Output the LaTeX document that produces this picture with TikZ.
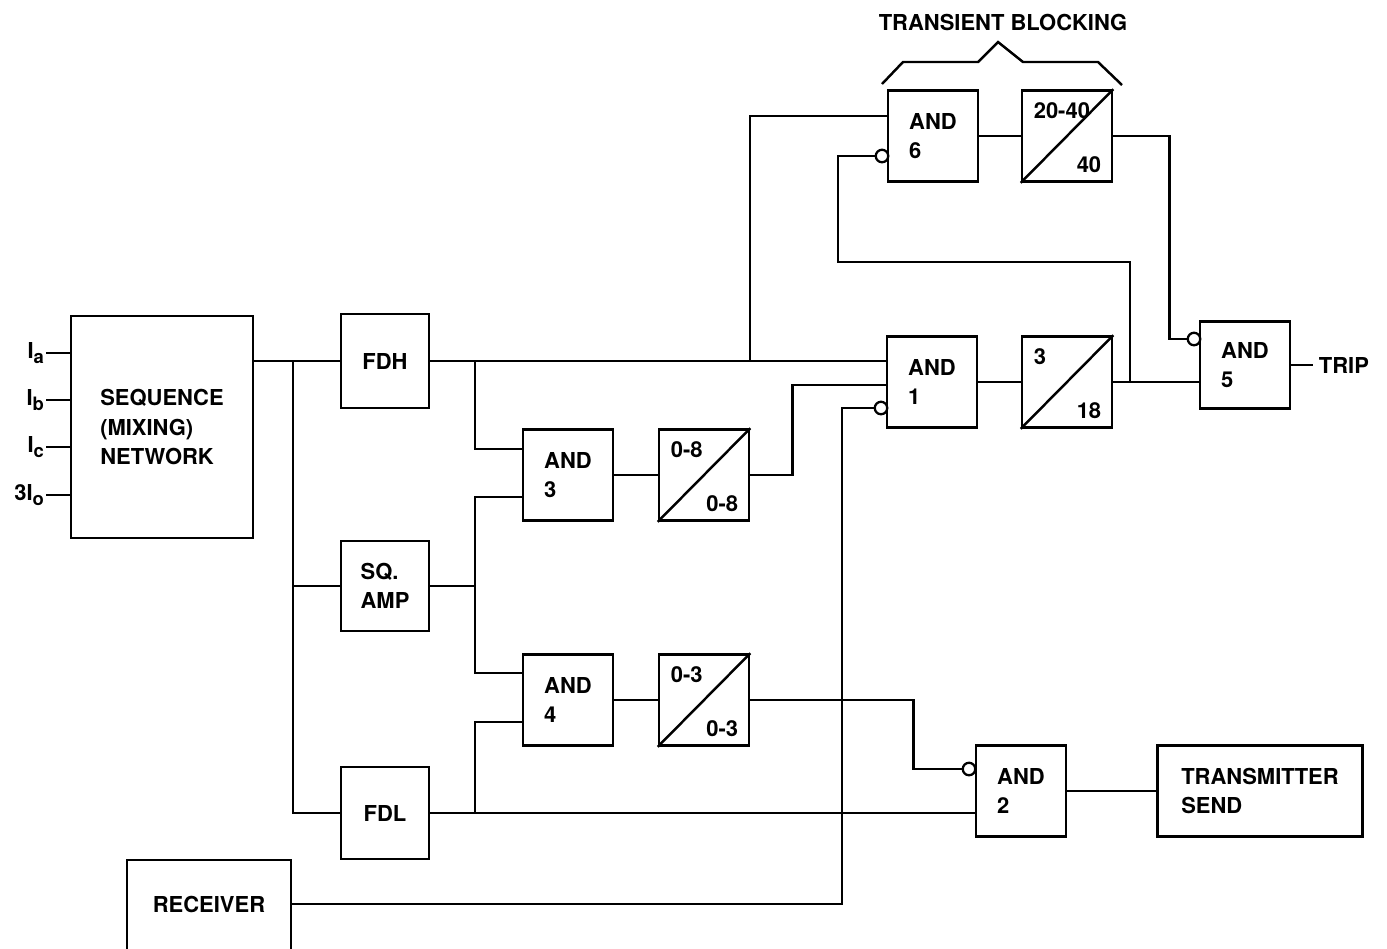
\documentclass[tikz,border=0pt]{standalone}
\usepackage{fontspec}
\setmainfont{TeX Gyre Heros}
\usepackage{tikz}
\usetikzlibrary{positioning}

% delay box: name, centre, pick-up time, drop-out time
\newcommand{\delaybox}[4]{%
  \node[gate] (#1) at (#2) {};
  \draw[wire] (#1.south west) -- (#1.north east);
  \node[lbl, anchor=north west] at ([shift={(11,11)}]#1.north west) {#3};
  \node[lbl, anchor=south east] at ([shift={(-10,-8)}]#1.south east) {#4};
}
% subscript of the input currents
\newcommand{\insub}[1]{\raisebox{-0.45ex}{\fontsize{10.5}{12}\selectfont #1}}

\begin{document}
\begin{tikzpicture}[
  x=0.02cm, y=-0.02cm,
  font=\fontsize{12.5}{16.8}\selectfont\bfseries,
  box/.style  = {draw, line width=1.5pt, align=left, inner sep=0pt},
  gate/.style = {box, minimum width=1.8cm, minimum height=1.82cm},
  inv/.style  = {draw, circle, line width=1.3pt, inner sep=0pt, minimum size=0.25cm, fill=white},
  wire/.style = {draw, line width=1.4pt},
  lbl/.style  = {inner sep=1pt},
]
\useasboundingbox (0,0) rectangle (1387,948);
\clip (0,0) rectangle (1387,948);

% =============== input side ===============
\node[box, minimum width=3.64cm, minimum height=4.44cm] (seq) at (162,427) {SEQUENCE\\(MIXING)\\NETWORK};
\foreach \n/\y/\t in {ia/353/{I\insub{a}}, ib/400/{I\insub{b}},
                      ic/447/{I\insub{c}}, io/495/{3I\insub{o}}} {
  \node[lbl, anchor=east] (\n) at (46,\y) {\t};
  \draw[wire] (\n.east) -- (\n.east -| seq.west);
}

\node[box, minimum width=1.76cm, minimum height=1.88cm] (fdh)   at (385,361) {FDH};
\node[box, minimum width=1.76cm, minimum height=1.8cm]  (sqamp) at (385,586) {SQ.\\AMP};
\node[box, minimum width=1.76cm, minimum height=1.84cm] (fdl)   at (385,813) {FDL};
\node[box, minimum width=3.28cm, minimum height=2cm]    (rcv)   at (209,910) {};
\node[lbl] (rcvtxt) at (209,904) {RECEIVER};

% =============== logic ===============
\node[gate] (and3) at (568,475) {AND\\3};
\node[gate] (and4) at (568,700) {AND\\4};
\delaybox{t08}{704,475}{0-8}{0-8}
\delaybox{t03}{704,700}{0-3}{0-3}

\node[gate] (and1) at (932,382) {AND\\1};
\node[gate] (and6) at (933,136) {AND\\6};
\delaybox{t318}{1067,382}{3}{18}
\delaybox{t2040}{1067,136}{20-40}{40}

\node[gate, minimum height=1.74cm] (and5) at (1245,365) {AND\\5};
\node[gate] (and2) at (1021,791) {AND\\2};
\node[box, minimum width=4.1cm, minimum height=1.82cm] (xmit) at (1260,791) {TRANSMITTER\\SEND};
\node[lbl, inner sep=3pt, right=0.44cm of and5] (trip) {TRIP};

% inverted inputs
\node[inv] (and1n) at (881,408) {};
\node[inv] (and6n) at (882,156) {};
\node[inv] (and5n) at (1194,339) {};
\node[inv] (and2n) at (969,769) {};

% plain inputs and wire junctions
\coordinate (and3a) at (523,449);  \coordinate (and3b) at (523,497);
\coordinate (and4a) at (523,673);  \coordinate (and4b) at (523,722);
\coordinate (and1b) at (887,385);  \coordinate (and6a) at (888,116);
\coordinate (and5b) at (1200,382);
\coordinate (bus) at (293,361);
\coordinate (j1) at (475,361);  \coordinate (j2) at (475,586);  \coordinate (j3) at (475,813);
\coordinate (j4) at (750,361);  \coordinate (j5) at (1130,382); \coordinate (j6) at (838,262);
\coordinate (k1) at (842,904);

% =============== wiring ===============
\draw[wire] (fdh.west -| seq.east) -- (fdh.west);
\draw[wire] (bus) |- (fdl.west);
\draw[wire] (bus |- sqamp.west) -- (sqamp.west);

\draw[wire] (fdh.east) -- (fdh.east -| and1.west);
\draw[wire] (j1) |- (and3a);
\draw[wire] (sqamp.east) -- (j2);
\draw[wire] (and3b) -| (j2) |- (and4a);
\draw[wire] (fdl.east) -- (fdl.east -| and2.west);
\draw[wire] (j3) |- (and4b);

\draw[wire] (and3.east) -- (t08.west);
\draw[wire] (t08.east) -- ++(42,0) |- (and1b);
\draw[wire] (and4.east) -- (t03.west);
\draw[wire] (t03.east) -- ++(163,0) |- (and2n.west);
\draw[wire] (rcvtxt -| rcv.east) -- (k1) |- (and1n.west);

\draw[wire] (j4) |- (and6a);
\draw[wire] (and6.east) -- (t2040.west);
\draw[wire] (t2040.east) -- ++(56,0) |- (and5n.west);
\draw[wire] (and1.east) -- (t318.west);
\draw[wire] (t318.east) -- (and5b);
\draw[wire] (j5) |- (j6) |- (and6n.west);
\draw[wire] (and5.east) -- (trip.west);
\draw[wire] (and2.east) -- (xmit.west);

% transient blocking bracket
\draw[wire] (882,84) -- (903,62) -- (978,62) -- (998,42) -- (1023,62) -- (1098,62) -- (1122,85);
\node[lbl] (tblk) at (1003,22) {TRANSIENT BLOCKING};

\end{tikzpicture}
\end{document}
